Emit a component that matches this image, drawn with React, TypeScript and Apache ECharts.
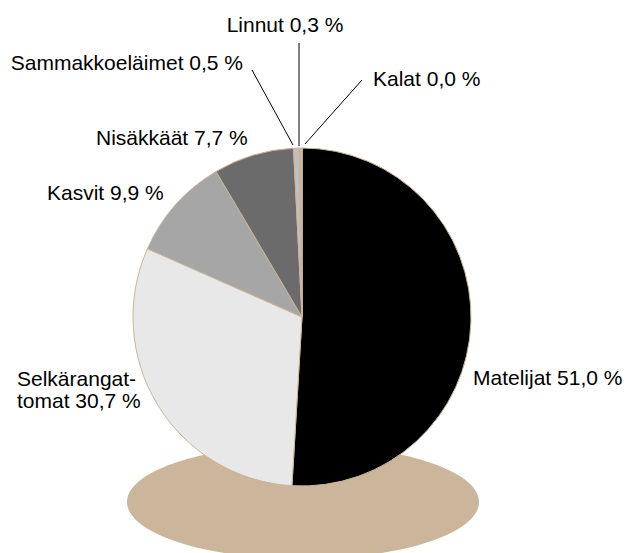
import React, { useEffect, useRef } from "react";
import * as echarts from "echarts";

const categories = [
  "Matelijat",
  "Selkärangattomat",
  "Kasvit",
  "Nisäkkäät",
  "Sammakkoeläimet",
  "Linnut",
  "Kalat",
];
const values = [51.0, 30.7, 9.9, 7.7, 0.5, 0.3, 0.0];
const colors = ["#000000", "#e8e8e8", "#a6a6a6", "#6b6b6b", "#c0c0c0", "#cbb59b", "#ffffff"];
const labelNames = [
  "Matelijat",
  "Selkärangat-\ntomat",
  "Kasvit",
  "Nisäkkäät",
  "Sammakkoeläimet",
  "Linnut",
  "Kalat",
];

const FONT = '"Liberation Sans Narrow", "Arial Narrow", "Liberation Sans", sans-serif';

export default function App() {
  const ref = useRef<HTMLDivElement>(null);
  useEffect(() => {
    if (!ref.current) return;
    const chart = echarts.init(ref.current, undefined, { renderer: "svg" });
    const layouts: any[] = [
      { x: 473, y: 377, align: "left" },
      { x: 17, y: 389, align: "left" },
      { x: 47, y: 192, align: "left" },
      { x: 96, y: 137, align: "left" },
      { x: 243, y: 62, align: "right", line: [[252, 70], [252, 70], [293, 145]] },
      { x: 285, y: 24, align: "center", line: [[299, 43], [299, 43], [299, 146]] },
      { x: 373, y: 78, align: "left", line: [[362, 80], [362, 80], [305, 144]] },
    ];
    chart.setOption({
      animation: false,
      backgroundColor: "#ffffff",
      graphic: [
        {
          type: "ellipse",
          z: 0,
          shape: { cx: 303, cy: 502, rx: 176, ry: 57 },
          style: { fill: "#cbb59b" },
        },
      ],
      series: [
        {
          type: "pie",
          z: 5,
          center: [302, 317],
          radius: 169,
          startAngle: 90,
          clockwise: true,
          avoidLabelOverlap: false,
          itemStyle: { borderColor: "#cbb59b", borderWidth: 1 },
          label: {
            show: true,
            position: "outside",
            fontFamily: FONT,
            fontSize: 21,
            color: "#000000",
            lineHeight: 22,
            formatter: (p: any) =>
              `${labelNames[p.dataIndex]} ${Number(p.value).toFixed(1).replace(".", ",")} %`,
          },
          labelLine: { show: false, lineStyle: { color: "#000000", width: 1 } },
          labelLayout: (params: any) => {
            const l = layouts[params.dataIndex];
            const r: any = { x: l.x, y: l.y, align: l.align, verticalAlign: "middle" };
            if (l.line) r.labelLinePoints = l.line;
            return r;
          },
          data: categories.map((name, i) => ({
            name,
            value: values[i],
            itemStyle: { color: colors[i] },
            labelLine: { show: i >= 4 },
          })),
        },
      ],
    });
    return () => chart.dispose();
  }, []);
  return (
    <div
      ref={ref}
      style={{ position: "fixed", left: 0, top: 0, width: 632, height: 553 }}
    />
  );
}
